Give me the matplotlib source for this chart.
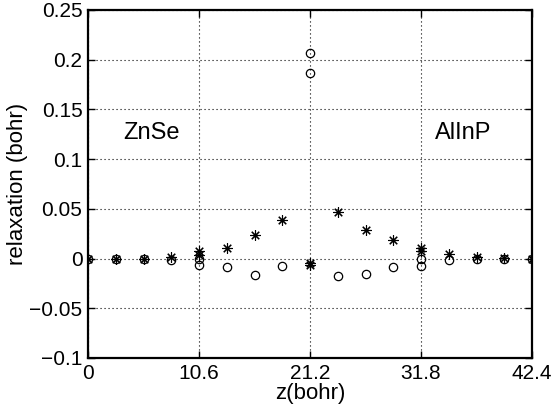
import matplotlib
matplotlib.use("Agg")
import matplotlib.pyplot as plt
import numpy as np
from matplotlib.ticker import FixedLocator, FuncFormatter

plt.rcParams["font.family"] = ["Liberation Sans", "DejaVu Sans"]

# layer positions (bohr)
z_circ = [0, 2.65, 5.3, 7.95, 10.6, 10.6, 13.25, 15.9, 18.55, 21.2, 21.2,
          23.85, 26.5, 29.15, 31.8, 31.8, 34.45, 37.1, 39.75, 42.4]
circ = [0, 0, 0, -0.001, 0.0, -0.006, -0.008, -0.017, -0.007, 0.207, 0.187,
        -0.018, -0.016, -0.008, 0.0, -0.007, -0.001, 0, 0, 0]

z_star = [0, 2.65, 5.3, 7.95, 10.6, 10.6, 13.25, 15.9, 18.55, 21.2, 21.2,
          23.85, 26.5, 29.15, 31.8, 31.8, 34.45, 37.1, 39.75, 42.4]
star = [0, 0, 0, 0.002, 0.008, 0.004, 0.011, 0.024, 0.039, -0.004, -0.006,
        0.047, 0.029, 0.019, 0.011, 0.008, 0.005, 0.002, 0.001, 0]

x_ticks = [0, 10.6, 21.2, 31.8, 42.4]
x_labels = ["0", "10.6", "21.2", "31.8", "42.4"]
y_ticks = [-0.1, -0.05, 0, 0.05, 0.1, 0.15, 0.2, 0.25]


def yfmt(v, pos):
    if abs(v) < 1e-9:
        return "0"
    s = ("%.2f" % v).rstrip("0")
    return s.replace("-", "\u2212")


fig = plt.figure(figsize=(5.55, 4.13), dpi=100)
ax = fig.add_axes([0.1586, 0.1332, 0.8, 0.8426])

ax.plot(z_circ, circ, linestyle="none", marker="o", markersize=6,
        markerfacecolor="none", markeredgecolor="black", markeredgewidth=0.9)
ax.plot(z_star, star, linestyle="none", marker=(8, 2, 0), markersize=7.5,
        color="black", markeredgewidth=0.8)

ax.set_xlim(0, 42.4)
ax.set_ylim(-0.1, 0.25)
ax.xaxis.set_major_locator(FixedLocator(x_ticks))
ax.set_xticklabels(x_labels)
ax.yaxis.set_major_locator(FixedLocator(y_ticks))
ax.yaxis.set_major_formatter(FuncFormatter(yfmt))

ax.grid(True, linestyle=(0, (1, 2.6)), color="black", linewidth=0.8)
ax.tick_params(direction="in", length=5, width=1, labelsize=15, pad=4,
               top=True, right=True)
for sp in ax.spines.values():
    sp.set_linewidth(1.6)

ax.set_xlabel("z(bohr)", fontsize=16, labelpad=0)
ax.set_ylabel("relaxation (bohr)", fontsize=16, labelpad=1)

ax.text(6.1, 0.126, "ZnSe", fontsize=17, ha="center", va="center")
ax.text(35.86, 0.126, "AlInP", fontsize=17, ha="center", va="center")

fig.savefig("out.png", dpi=100)
